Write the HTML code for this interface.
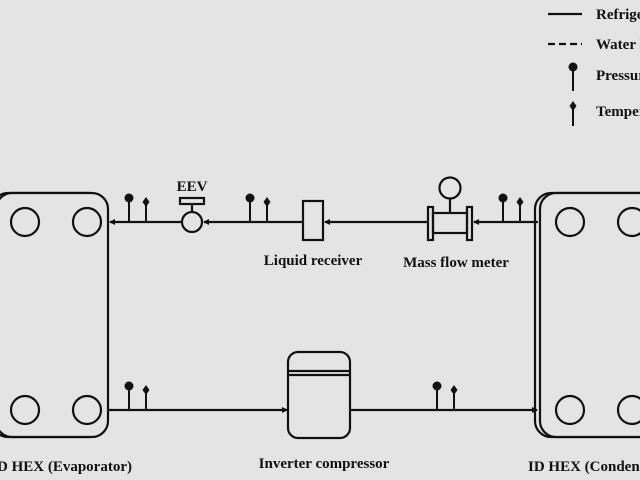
<!DOCTYPE html>
<html><head><style>
html,body{margin:0;padding:0;background:#e4e4e4;}
svg{display:block;}
text{font-family:"Liberation Serif",serif;font-weight:bold;fill:#111;}
</style></head><body>
<svg width="640" height="480" viewBox="0 0 640 480">
<defs>
<marker id="a" markerWidth="6" markerHeight="6" refX="5" refY="3" orient="auto" markerUnits="userSpaceOnUse"><path d="M0,0 L6,3 L0,6 z" fill="#111"/></marker>
<g id="p"><line x1="0" y1="0" x2="0" y2="-22" stroke="#111" stroke-width="2"/><circle cx="0" cy="-24" r="4.5" fill="#111"/></g>
<g id="t"><line x1="0" y1="0" x2="0" y2="-18" stroke="#111" stroke-width="2"/><path d="M0,-25 L3.5,-20 L0,-15 L-3.5,-20z" fill="#111"/></g>
</defs>
<g fill="none" stroke="#111" stroke-width="2.2">
<rect x="-8" y="193" width="113" height="244" rx="16"/>
<rect x="-4" y="193" width="112" height="244" rx="16" fill="#e4e4e4"/>
<circle cx="25" cy="222" r="14"/><circle cx="87" cy="222" r="14"/>
<circle cx="25" cy="410" r="14"/><circle cx="87" cy="410" r="14"/>
<rect x="535" y="193" width="120" height="244" rx="16"/>
<rect x="540" y="193" width="120" height="244" rx="16" fill="#e4e4e4"/>
<circle cx="570" cy="222" r="14"/><circle cx="632" cy="222" r="14"/>
<circle cx="570" cy="410" r="14"/><circle cx="632" cy="410" r="14"/>
<line x1="182" y1="222" x2="110" y2="222" marker-end="url(#a)"/>
<line x1="303" y1="222" x2="204" y2="222" marker-end="url(#a)"/>
<line x1="428" y1="222" x2="325" y2="222" marker-end="url(#a)"/>
<line x1="538" y1="222" x2="474" y2="222" marker-end="url(#a)"/>
<circle cx="192" cy="222" r="10" fill="#e4e4e4"/>
<line x1="192" y1="212" x2="192" y2="204"/>
<rect x="180" y="198" width="24" height="6"/>
<rect x="303" y="201" width="20" height="39"/>
<rect x="428" y="207" width="5" height="33"/>
<rect x="467" y="207" width="5" height="33"/>
<rect x="433" y="213" width="34" height="20"/>
<line x1="450" y1="213" x2="450" y2="199"/>
<circle cx="450" cy="188" r="10.5"/>
<line x1="108" y1="410" x2="287" y2="410" marker-end="url(#a)"/>
<line x1="350" y1="410" x2="537" y2="410" marker-end="url(#a)"/>
<rect x="288" y="352" width="62" height="86" rx="10"/>
<line x1="288" y1="371" x2="350" y2="371"/>
<line x1="288" y1="375" x2="350" y2="375"/>
<line x1="548" y1="14" x2="582" y2="14"/>
<line x1="548" y1="44" x2="582" y2="44" stroke-dasharray="7,4"/>
</g>
<use href="#p" x="129" y="222"/><use href="#t" x="146" y="222"/>
<use href="#p" x="250" y="222"/><use href="#t" x="267" y="222"/>
<use href="#p" x="503" y="222"/><use href="#t" x="520" y="222"/>
<use href="#p" x="129" y="410"/><use href="#t" x="146" y="410"/>
<use href="#p" x="437" y="410"/><use href="#t" x="454" y="410"/>
<use href="#p" x="573" y="91"/><use href="#t" x="573" y="126"/>
<text x="192" y="191" font-size="15" text-anchor="middle">EEV</text>
<text x="313" y="265" font-size="15" text-anchor="middle">Liquid receiver</text>
<text x="456" y="267" font-size="15" text-anchor="middle">Mass flow meter</text>
<text x="-3" y="471" font-size="15">D HEX (Evaporator)</text>
<text x="324" y="468" font-size="15" text-anchor="middle">Inverter compressor</text>
<text x="528" y="471" font-size="15">ID HEX (Condenser)</text>
<text x="596" y="19" font-size="15">Refrigerant</text>
<text x="596" y="49" font-size="15">Water line</text>
<text x="596" y="80" font-size="15">Pressure</text>
<text x="596" y="116" font-size="15">Temperature</text>
</svg>
</body></html>
